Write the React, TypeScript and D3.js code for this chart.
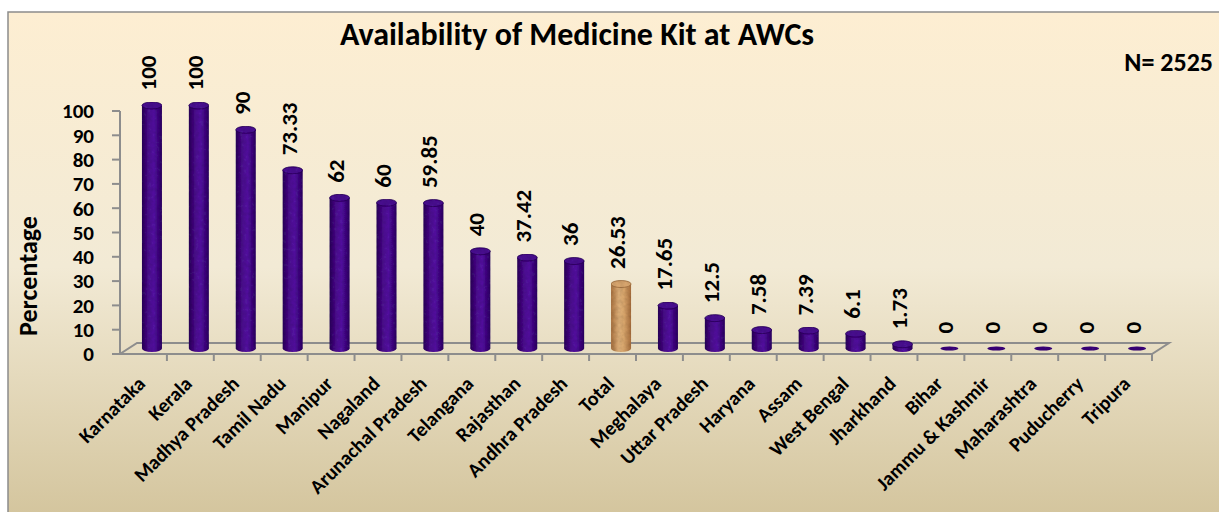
import React from "react";
import * as d3 from "d3";

const categories = [
  "Karnataka", "Kerala", "Madhya Pradesh", "Tamil Nadu", "Manipur", "Nagaland",
  "Arunachal Pradesh", "Telangana", "Rajasthan", "Andhra Pradesh", "Total",
  "Meghalaya", "Uttar Pradesh", "Haryana", "Assam", "West Bengal", "Jharkhand",
  "Bihar", "Jammu & Kashmir", "Maharashtra", "Puducherry", "Tripura",
];
const values = [100, 100, 90, 73.33, 62, 60, 59.85, 40, 37.42, 36, 26.53, 17.65, 12.5, 7.58, 7.39, 6.1, 1.73, 0, 0, 0, 0, 0];
const valueLabels = ["100", "100", "90", "73.33", "62", "60", "59.85", "40", "37.42", "36", "26.53", "17.65", "12.5", "7.58", "7.39", "6.1", "1.73", "0", "0", "0", "0", "0"];
const yTicks = [0, 10, 20, 30, 40, 50, 60, 70, 80, 90, 100];
const highlight = "Total";
const title = "Availability of Medicine Kit at AWCs";
const nLabel = "N= 2525";

const FONT = "Carlito, Calibri, Lato, 'Open Sans', sans-serif";

export default function App() {
  const W = 1219, H = 512;
  const x = d3.scaleBand<string>().domain(categories).range([120, 1152]).padding(0);
  const y = d3.scaleLinear().domain([0, 100]).range([354, 111]);
  const dx = 17, dy = -11;
  const bw = 20, ry = 3.5;
  const y0 = y(0);

  return (
    <svg width={W} height={H} style={{ position: "absolute", left: 0, top: 0 }} fontFamily={FONT}>
      <defs>
        <linearGradient id="bg" x1="0" y1="0" x2="0" y2="1">
          <stop offset="0" stopColor="#fdeed2" />
          <stop offset="0.5" stopColor="#f2ead5" />
          <stop offset="1" stopColor="#d3c49c" />
        </linearGradient>
        <linearGradient id="purp" x1="0" y1="0" x2="1" y2="0">
          <stop offset="0" stopColor="#2a0658" />
          <stop offset="0.35" stopColor="#4d1590" />
          <stop offset="0.6" stopColor="#5318a0" />
          <stop offset="1" stopColor="#2c0760" />
        </linearGradient>
        <linearGradient id="tan" x1="0" y1="0" x2="1" y2="0">
          <stop offset="0" stopColor="#a8713f" />
          <stop offset="0.4" stopColor="#dcae78" />
          <stop offset="0.65" stopColor="#d9a66c" />
          <stop offset="1" stopColor="#a46c3c" />
        </linearGradient>
        <filter id="mottle" x="0" y="0" width="100%" height="100%">
          <feTurbulence type="fractalNoise" baseFrequency="0.25" numOctaves="2" seed="3" result="n" />
          <feColorMatrix in="n" type="matrix" values="0 0 0 0 0  0 0 0 0 0  0 0 0 0 0  0 0 0 0.35 -0.1" result="na" />
          <feComposite in="na" in2="SourceGraphic" operator="in" result="nm" />
          <feMerge>
            <feMergeNode in="SourceGraphic" />
            <feMergeNode in="nm" />
          </feMerge>
        </filter>
      </defs>
      <rect x={8} y={12} width={1220} height={510} fill="url(#bg)" stroke="#8c8c8c" strokeWidth={1.5} />

      <text x={577} y={45} textAnchor="middle" fontWeight="bold" fontSize={32} fill="#000">{title}</text>
      <text x={1213} y={71} textAnchor="end" fontWeight="bold" fontSize={26} fill="#000">{nLabel}</text>

      {/* floor */}
      <path
        d={`M${120},${y0} L${1152},${y0} L${1152 + dx},${y0 + dy} L${120 + dx},${y0 + dy} Z`}
        fill="none" stroke="#8d8d8d" strokeWidth={2}
      />
      {/* y axis */}
      <line x1={120} x2={120} y1={y(100)} y2={y0} stroke="#8d8d8d" strokeWidth={2} />
      {yTicks.map((t) => (
        <g key={t}>
          <line x1={112} x2={120} y1={y(t)} y2={y(t)} stroke="#8d8d8d" strokeWidth={2} />
          <text x={94} y={y(t)} dy="0.35em" textAnchor="end" fontWeight="bold" fontSize={21} fill="#000">{t}</text>
        </g>
      ))}
      <text transform={`translate(37,276) rotate(-90)`} textAnchor="middle" fontWeight="bold" fontSize={26} fill="#000">Percentage</text>

      {/* category ticks */}
      {categories.map((c, i) => (
        <line key={"t" + i} x1={(x(c) as number) + x.bandwidth()} x2={(x(c) as number) + x.bandwidth()} y1={y0} y2={y0 + 7} stroke="#8d8d8d" strokeWidth={2} />
      ))}

      {/* bars */}
      {categories.map((c, i) => {
        const v = values[i];
        const cx = (x(c) as number) + x.bandwidth() / 2 + dx / 2;
        const base = y0 + dy / 2;
        const top = y(v) + dy / 2;
        const isT = c === highlight;
        const fill = isT ? "url(#tan)" : "url(#purp)";
        const topFill = isT ? "#d7a56e" : "#4a1590";
        const rim = isT ? "#9a6a3c" : "#2a0658";
        return (
          <g key={c} filter="url(#mottle)">
            {v > 0 ? (
              <>
                <ellipse cx={cx} cy={base} rx={bw / 2} ry={ry} fill={fill} />
                <rect x={cx - bw / 2} y={top} width={bw} height={base - top} fill={fill} />
                <ellipse cx={cx} cy={top} rx={bw / 2} ry={ry} fill={topFill} stroke={rim} strokeWidth={0.8} />
              </>
            ) : (
              <ellipse cx={cx} cy={base} rx={bw / 2 - 1} ry={2} fill="#3a0a78" />
            )}
          </g>
        );
      })}

      {/* value labels */}
      {categories.map((c, i) => {
        const cx = (x(c) as number) + x.bandwidth() / 2 + dx / 2;
        const top = y(values[i]) + dy / 2;
        return (
          <text key={"v" + i} transform={`translate(${cx - 4},${top - 15}) rotate(-90)`} dy="0.35em" textAnchor="start" fontWeight="bold" fontSize={23} fill="#000">
            {valueLabels[i]}
          </text>
        );
      })}

      {/* x labels */}
      {categories.map((c, i) => {
        const cx = (x(c) as number) + x.bandwidth() / 2;
        return (
          <text key={"x" + i} transform={`translate(${cx + 3},${y0 + 31}) rotate(-45)`} textAnchor="end" fontWeight="bold" fontSize={20} fill="#000">
            {c}
          </text>
        );
      })}
    </svg>
  );
}
